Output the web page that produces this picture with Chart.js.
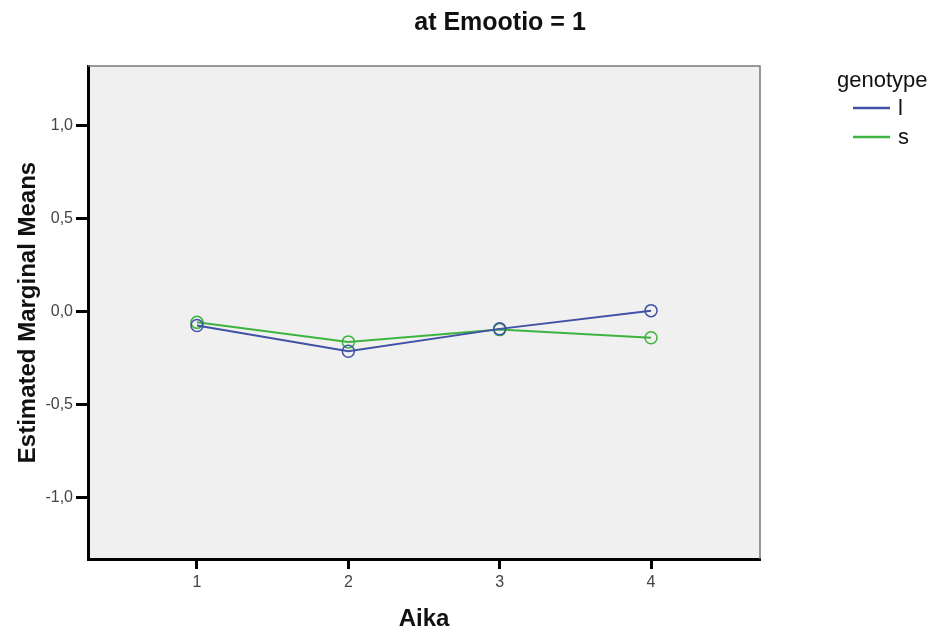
<!DOCTYPE html>
<html>
<head>
<meta charset="utf-8">
<script src="https://cdn.jsdelivr.net/npm/chart.js@4"></script>
<style>
  html, body { margin: 0; padding: 0; background: #fff; }
  #wrap { width: 930px; height: 630px; position: relative; }
</style>
</head>
<body>
<div id="wrap"><canvas id="chart" width="930" height="630"></canvas></div>
<script>
// values
const aika = [1, 2, 3, 4];
const genotypeL = [-0.075, -0.213, -0.093, 0.005];
const genotypeS = [-0.058, -0.163, -0.097, -0.141];
const yTicks = [-1, -0.5, 0, 0.5, 1];
const seriesNames = ['l', 's'];

const FONT = '"Liberation Sans", Arial, sans-serif';

// frame: thin grey top/right, plot background, title, legend
const framePlugin = {
    id: 'frame',
    beforeDraw(chart) {
        const { ctx, chartArea: a } = chart;
        ctx.save();
        ctx.fillStyle = '#f0f0f0';
        ctx.fillRect(a.left, a.top, a.right - a.left, a.bottom - a.top);
        ctx.restore();
    },
    afterDraw(chart) {
        const { ctx, chartArea: a } = chart;
        ctx.save();
        ctx.strokeStyle = '#777';
        ctx.lineWidth = 1.5;
        ctx.beginPath();
        ctx.moveTo(a.left, a.top);
        ctx.lineTo(a.right, a.top);
        ctx.lineTo(a.right, a.bottom);
        ctx.stroke();

        // title
        ctx.fillStyle = '#111';
        ctx.font = 'bold 25px ' + FONT;
        ctx.textAlign = 'center';
        ctx.textBaseline = 'middle';
        ctx.fillText('at Emootio = 1', 500, 23);

        // legend
        ctx.font = '22px ' + FONT;
        ctx.textAlign = 'left';
        ctx.fillText('genotype', 837, 81);
        chart.data.datasets.forEach((ds, i) => {
            const y = 108 + i * 29;
            ctx.strokeStyle = ds.borderColor;
            ctx.lineWidth = 2.5;
            ctx.beginPath();
            ctx.moveTo(853, y);
            ctx.lineTo(890, y);
            ctx.stroke();
            ctx.fillStyle = '#111';
            ctx.fillText(ds.label, 898, y + 1);
        });
        ctx.restore();
    }
};

new Chart(document.getElementById('chart'), {
    type: 'line',
    data: {
        datasets: [
            {
                label: seriesNames[0],
                data: aika.map((x, i) => ({ x: x, y: genotypeL[i] })),
                borderColor: '#4151a6',
                backgroundColor: 'rgba(0,0,0,0)',
                borderWidth: 2,
                pointRadius: 6,
                pointBorderWidth: 1.5,
                pointBackgroundColor: 'rgba(0,0,0,0)',
                tension: 0
            },
            {
                label: seriesNames[1],
                data: aika.map((x, i) => ({ x: x, y: genotypeS[i] })),
                borderColor: '#3cb43f',
                backgroundColor: 'rgba(0,0,0,0)',
                borderWidth: 2,
                pointRadius: 6,
                pointBorderWidth: 1.5,
                pointBackgroundColor: 'rgba(0,0,0,0)',
                tension: 0
            }
        ]
    },
    options: {
        responsive: false,
        animation: false,
        layout: { padding: { left: 14, top: 66, right: 170, bottom: 0 } },
        plugins: {
            legend: { display: false },
            tooltip: { enabled: false }
        },
        scales: {
            x: {
                type: 'linear',
                min: 0.28,
                max: 4.72,
                afterBuildTicks: (s) => { s.ticks = aika.map(v => ({ value: v })); },
                afterFit: (s) => { s.height = 71; },
                ticks: {
                    color: '#444',
                    font: { family: FONT, size: 16 },
                    padding: 4,
                    callback: (v) => String(v)
                },
                grid: {
                    drawOnChartArea: false,
                    drawTicks: true,
                    tickLength: 10,
                    tickWidth: 3,
                    tickColor: '#000'
                },
                border: { display: true, color: '#000', width: 3 },
                title: {
                    display: true,
                    text: 'Aika',
                    color: '#111',
                    font: { family: FONT, size: 24, weight: 'bold' },
                    padding: { top: 4, bottom: -4 }
                }
            },
            y: {
                min: -1.33,
                max: 1.32,
                afterBuildTicks: (s) => { s.ticks = yTicks.map(v => ({ value: v })); },
                afterFit: (s) => { s.width = 74; },
                ticks: {
                    color: '#444',
                    font: { family: FONT, size: 16 },
                    padding: 3,
                    callback: (v) => v.toFixed(1).replace('.', ',')
                },
                grid: {
                    drawOnChartArea: false,
                    drawTicks: true,
                    tickLength: 12,
                    tickWidth: 3,
                    tickColor: '#000'
                },
                border: { display: true, color: '#000', width: 3 },
                title: {
                    display: true,
                    text: 'Estimated Marginal Means',
                    color: '#111',
                    font: { family: FONT, size: 24, weight: 'bold' },
                    padding: { top: 0, bottom: 6 }
                }
            }
        }
    },
    plugins: [framePlugin]
});
</script>
</body>
</html>
